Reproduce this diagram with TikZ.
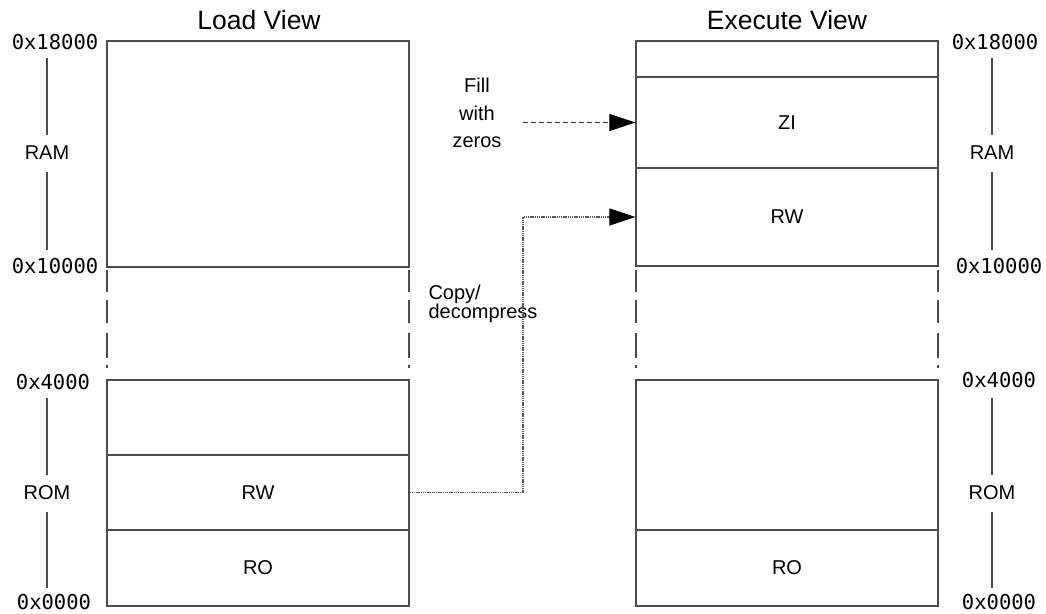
\documentclass[tikz,border=0pt]{standalone}
\usepackage{fontspec}
\setmainfont{Liberation Sans}
\newfontfamily\addrfont{DejaVu Sans Mono}
\usetikzlibrary{arrows.meta}

\tikzset{
  region/.style={draw=black!70, line width=1.2pt, rectangle, inner sep=0pt,
                 minimum width=302pt, font=\fontsize{20}{24}\selectfont},
  title/.style={font=\fontsize{26.5}{30}\selectfont},
  label/.style={font=\fontsize{20}{24}\selectfont},
  addr/.style={font=\addrfont\fontsize{20.5}{24}\selectfont},
  scaleline/.style={draw=black!70, line width=1.2pt},
  gap/.style={draw=black!70, line width=1.2pt,
              dash pattern=on 22pt off 8pt on 23pt off 10pt on 25pt off 7pt on 3pt off 40pt},
  bighead/.style={-{Triangle[length=26pt,width=17pt,color=black]}},
  zeroarrow/.style={draw=black!80, line width=1pt, dash pattern=on 5pt off 3pt, bighead},
  copyarrow/.style={draw=black!65, line width=1.1pt, dash pattern=on 1.4pt off 0.8pt, bighead},
}

\begin{document}
\begin{tikzpicture}[x=1pt, y=-1pt]
  \useasboundingbox (0,0) rectangle (1046,613);

  % ---------- Load view ----------
  \node[title] (ltitle) at (259,20) {Load View};
  \node[region, minimum height=226pt] (lram) at (258,154) {};
  \node[region, minimum height=75pt] (ltop) at (258,417.5) {};
  \node[region, minimum height=75pt] (lrw) at (258,492.5) {RW};
  \node[region, minimum height=76pt] (lro) at (258,568) {RO};
  \draw[gap] (107,270) -- (107,380);
  \draw[gap] (409,270) -- (409,380);

  % address scale, load side
  \node[addr] (la0) at (55,42) {0x18000};
  \node[label] (lram-l) at (47,153) {RAM};
  \node[addr] (la1) at (55,266) {0x10000};
  \node[addr] (la2) at (53,382) {0x4000};
  \node[label] (lrom-l) at (47,493) {ROM};
  \node[addr] (la3) at (54,602) {0x0000};
  \draw[scaleline] (47,58) -- (47,135);
  \draw[scaleline] (47,172) -- (47,250);
  \draw[scaleline] (47,398) -- (47,475);
  \draw[scaleline] (47,512) -- (47,588);

  % ---------- Execute view ----------
  \node[title] (xtitle) at (787,20) {Execute View};
  \node[region, minimum height=36pt] (xtop) at (787,59) {};
  \node[region, minimum height=91pt] (xzi) at (787,122.5) {ZI};
  \node[region, minimum height=98pt] (xrw) at (787,217) {RW};
  \node[region, minimum height=150pt] (xrom) at (787,455) {};
  \node[region, minimum height=76pt] (xro) at (787,568) {RO};
  \draw[gap] (636,270) -- (636,380);
  \draw[gap] (938,270) -- (938,380);

  % address scale, execute side
  \node[addr] (xa0) at (995,42) {0x18000};
  \node[label] (xram-l) at (992,153) {RAM};
  \node[addr] (xa1) at (999,266) {0x10000};
  \node[addr] (xa2) at (999,380) {0x4000};
  \node[label] (xrom-l) at (992,493) {ROM};
  \node[addr] (xa3) at (999,602) {0x0000};
  \draw[scaleline] (992,58) -- (992,135);
  \draw[scaleline] (992,172) -- (992,250);
  \draw[scaleline] (992,398) -- (992,475);
  \draw[scaleline] (992,512) -- (992,588);

  % ---------- Transfers ----------
  \node[label, align=center, font=\fontsize{20}{27.5}\selectfont] (fill) at (477,113)
       {Fill\\with\\zeros};
  \coordinate (zstart) at (523,122.5);
  \draw[zeroarrow] (zstart) -- (xzi.west);

  \node[label, align=left, anchor=west, font=\fontsize{20}{17}\selectfont]
       (copy) at (425,304) {Copy/\\decompress};
  \coordinate (bend) at (523,492.5);
  \draw[copyarrow] (lrw.east) -- (bend) |- (xrw.west);
\end{tikzpicture}
\end{document}
